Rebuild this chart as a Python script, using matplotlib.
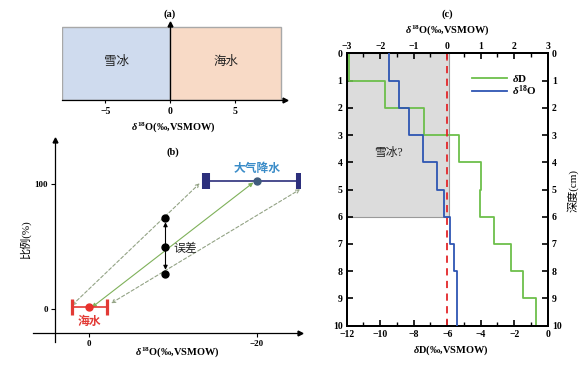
import numpy as np
import matplotlib
matplotlib.use("Agg")
import matplotlib.pyplot as plt

plt.rcParams['font.family'] = ['Liberation Serif', 'Noto Sans CJK SC']
plt.rcParams['font.weight'] = 'bold'
plt.rcParams['mathtext.fontset'] = 'custom'
plt.rcParams['mathtext.rm'] = 'Liberation Serif:bold'
plt.rcParams['mathtext.it'] = 'Liberation Serif:italic:bold'
plt.rcParams['mathtext.bf'] = 'Liberation Serif:bold'

# ---------------- data ----------------
# panel (a)
a_ranges = [(-8.36, 0.0), (0.0, 8.6)]
a_labels = ['雪冰', '海水']
a_ticks = [-5, 0, 5]

# panel (b)
sw_x, sw_y, sw_err = 0.0, 2.0, 2.1
pr_x, pr_y = -20.0, 102.4
pr_err_lo, pr_err_hi = 5.2, 6.1
mix_x = -9.1
mix_y = [73.0, 49.6, 28.2]
dash1 = [(2.1, 3.0), (-13.2, 100.8)]
dash2 = [(-2.6, 4.8), (-25.2, 96.0)]
b_xticks = [0, -20]
b_yticks = [0, 100]

# panel (c)
depth = np.arange(0, 11)
dD = [-11.84, -9.71, -7.38, -5.27, -3.98, -4.04, -3.18, -2.17, -1.45, -0.72]
d18O = [-1.73, -1.43, -1.13, -0.71, -0.31, -0.10, 0.08, 0.19, 0.29, 0.29]
snow_depth = 6
snow_dD_edge = -5.9

W, H = 588, 367
fig = plt.figure(figsize=(W / 100, H / 100), dpi=100)


def px_axes(x0, x1, y0, y1):
    return fig.add_axes([x0 / W, 1 - y1 / H, (x1 - x0) / W, (y1 - y0) / H])


xl = r'$\delta^{18}$O(‰,VSMOW)'
cjk_w = 'medium'

# ---------------- panel (a) ----------------
axa = px_axes(62, 285, 24, 100)
axa.set_xlim(-8.36, 8.9)
axa.set_ylim(0, 1)
cols = ['#cfdbee', '#f8dac6']
for (lo, hi), c, lab in zip(a_ranges, cols, a_labels):
    axa.add_patch(plt.Rectangle((lo, 0), hi - lo, 0.965, facecolor=c,
                                edgecolor='#a8a8a8', lw=1.0, zorder=1))
    axa.text((lo + hi) / 2, 0.5, lab, ha='center', va='center', fontsize=9,
             fontweight=cjk_w, color='#222222')
for s in ['top', 'right']:
    axa.spines[s].set_visible(False)
axa.spines['left'].set_position(('data', 0))
axa.spines['left'].set_linewidth(0.9)
axa.spines['bottom'].set_linewidth(0.9)
axa.set_yticks([])
axa.set_xticks(a_ticks)
axa.set_xticklabels(['−5', '0', '5'])
axa.tick_params(axis='x', direction='out', length=2, width=0.8, labelsize=7, pad=3)
axa.plot([1], [0], marker='>', color='k', ms=3.5, transform=axa.get_yaxis_transform(), clip_on=False)
axa.plot([0], [1], marker='^', color='k', ms=3.5, transform=axa.get_xaxis_transform(), clip_on=False)
fig.text(170 / W, 1 - 14 / H, '(a)', ha='center', va='center', fontsize=7.5)
fig.text(173 / W, 1 - 127 / H, xl, ha='center', va='center', fontsize=7.5)

# ---------------- panel (b) ----------------
axb = px_axes(33, 300, 140, 342)
axb.set_xlim(6.73, -25.17)
axb.set_ylim(-26.2, 135.4)
for s in ['top', 'right']:
    axb.spines[s].set_visible(False)
axb.spines['left'].set_position(('data', 4.1))
axb.spines['bottom'].set_position(('data', -18.7))
axb.spines['left'].set_linewidth(0.9)
axb.spines['bottom'].set_linewidth(0.9)
axb.set_xticks(b_xticks)
axb.set_xticklabels(['0', '−20'])
axb.set_yticks(b_yticks)
axb.tick_params(direction='out', length=3, width=0.8, labelsize=6.5, pad=2)
axb.plot([1], [-18.7], marker='>', color='k', ms=3.5, transform=axb.get_yaxis_transform(), clip_on=False)
axb.plot([4.1], [1], marker='^', color='k', ms=3.5, transform=axb.get_xaxis_transform(), clip_on=False)

# dashed guide lines
for (p0, p1) in (dash1, dash2):
    axb.annotate('', xy=p1, xytext=p0,
                 arrowprops=dict(arrowstyle='<->', color='#93a385', lw=0.8,
                                 linestyle=(0, (3, 2)), mutation_scale=6,
                                 shrinkA=0, shrinkB=0))
# green mixing line
axb.annotate('', xy=(pr_x + 0.4, pr_y - 1.0), xytext=(sw_x - 0.3, sw_y - 0.5),
             arrowprops=dict(arrowstyle='<|-|>', color='#7fb15a', lw=0.8,
                             mutation_scale=6, shrinkA=0, shrinkB=0))
# seawater
axb.errorbar([sw_x], [sw_y], xerr=sw_err, fmt='none', ecolor='#e23a35', elinewidth=1.2,
             capsize=5.6, capthick=2.3, zorder=4)
axb.plot([sw_x], [sw_y], 'o', color='#e8312c', ms=5, zorder=5)
axb.text(sw_x, sw_y - 12, '海水', color='#e23a35', ha='center', va='center', fontsize=8.5,
         fontweight='bold')
# precipitation
axb.errorbar([pr_x], [pr_y], xerr=[[pr_err_lo], [pr_err_hi]], fmt='none', ecolor='#2c2f7c',
             elinewidth=1.2, capsize=5.8, capthick=5.8, zorder=4)
axb.plot([pr_x], [pr_y], 'o', color='#3f5b7c', ms=5, zorder=5)
axb.text(pr_x, pr_y + 10, '大气降水', color='#3a8cc8', ha='center', va='center', fontsize=8.5,
         fontweight='bold')
# error points
axb.annotate('', xy=(mix_x, mix_y[0]), xytext=(mix_x, mix_y[2]),
             arrowprops=dict(arrowstyle='<|-|>', color='k', lw=0.8, mutation_scale=6,
                             shrinkA=3, shrinkB=3))
axb.plot([mix_x] * 3, mix_y, 'o', color='k', ms=5, zorder=5)
axb.text(mix_x - 0.9, mix_y[1] - 1.5, '误差', color='#222222', ha='left', va='center', fontsize=8.5,
         fontweight=cjk_w)

fig.text(173 / W, 1 - 152 / H, '(b)', ha='center', va='center', fontsize=7.5)
fig.text(177 / W, 1 - 352 / H, xl, ha='center', va='center', fontsize=7.5)
fig.text(25 / W, 1 - 240 / H, '比例(%)', ha='center', va='center', rotation=90,
         fontsize=8, fontweight=cjk_w)

# ---------------- panel (c) ----------------
axc = px_axes(346.7, 547.7, 53.3, 325.7)
axc.set_xlim(-12, 0)
axc.set_ylim(10, 0)
yy = np.repeat(depth, 2)[1:-1]
axc.fill_betweenx([0, snow_depth], -12, snow_dD_edge, facecolor='#dcdcdc',
                  edgecolor='#9a9a9a', lw=0.8, zorder=0)
axc.plot(np.repeat(dD, 2), yy, color='#6dbf4b', lw=1.3, zorder=3, label=r'$\delta$D')
axt = axc.twiny()
axt.set_xlim(-3, 3)
axt.plot(np.repeat(d18O, 2), yy, color='#2e55b3', lw=1.3, zorder=3)
axt.axvline(0, color='#e3262a', lw=1.3, ls=(0, (4, 3)), zorder=2)
axc.plot([], [], color='#2e55b3', lw=1.3, label=r'$\delta^{18}$O')
leg = axc.legend(loc='upper left', bbox_to_anchor=(0.6, 0.945), frameon=False,
                 fontsize=8, handlelength=3.2, labelspacing=0.0, handletextpad=0.4,
                 borderaxespad=0)
axc.text(-9.5, 3.66, '雪冰?', ha='center', va='center', fontsize=8.5,
         fontweight=cjk_w, color='#222222')

for ax in (axc, axt):
    for s in ax.spines.values():
        s.set_linewidth(1.4)
axc.set_xticks(np.arange(-12, 1, 2))
axc.set_xticks(np.arange(-12, 1, 1), minor=True)
axc.set_xticklabels(['−12', '−10', '−8', '−6', '−4', '−2', '0'])
axc.set_yticks(depth)
axc.tick_params(axis='x', which='major', direction='in', length=4, width=1.2, labelsize=7, pad=3)
axc.tick_params(axis='x', which='minor', direction='in', length=3, width=1.0)
axc.tick_params(axis='y', which='major', direction='in', length=4, width=1.2, labelsize=7,
                left=True, right=True, labelleft=True, labelright=True, pad=3)
axt.set_xticks(np.arange(-3, 4, 1))
axt.set_xticks(np.arange(-3, 3.1, 0.5), minor=True)
axt.set_xticklabels(['−3', '−2', '−1', '0', '1', '2', '3'])
axt.tick_params(axis='x', which='major', direction='in', length=4, width=1.2, labelsize=7, pad=2)
axt.tick_params(axis='x', which='minor', direction='in', length=3, width=1.0)

fig.text(447 / W, 1 - 14 / H, '(c)', ha='center', va='center', fontsize=7.5)
fig.text(447 / W, 1 - 30 / H, xl, ha='center', va='center', fontsize=7.5)
fig.text(451 / W, 1 - 350 / H, r'$\delta$D(‰,VSMOW)', ha='center', va='center', fontsize=7.5)
fig.text(573 / W, 1 - 190 / H, '深度(cm)', ha='center', va='center', rotation=90,
         fontsize=8, fontweight=cjk_w)

fig.savefig('out.png', dpi=100)
